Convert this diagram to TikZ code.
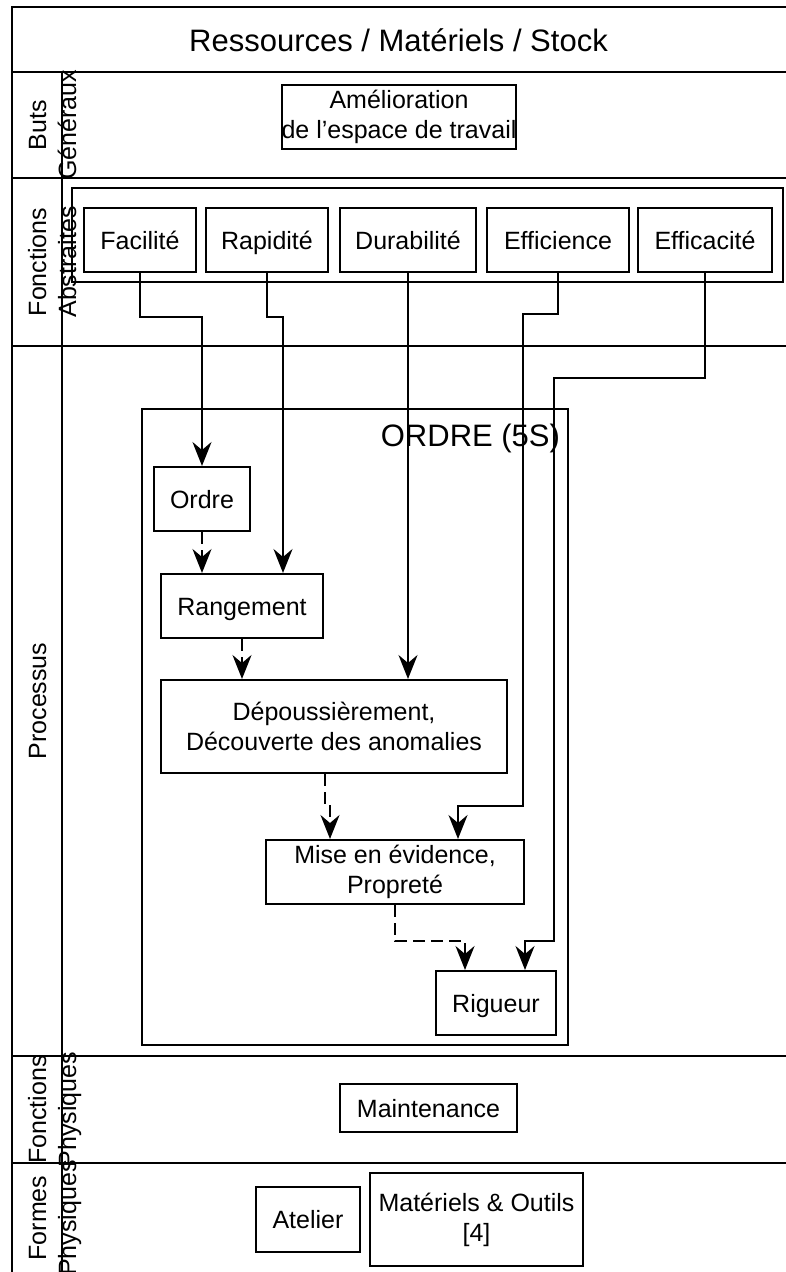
\documentclass[tikz,border=0pt]{standalone}
\usepackage{fontspec}
\setmainfont{Liberation Sans}
\usetikzlibrary{arrows.meta}
\begin{document}
\begin{tikzpicture}[x=1pt,y=-1pt,line width=2pt,
  box/.style={draw,line width=2pt,inner sep=0pt,align=center,font=\fontsize{25}{30}\selectfont},
  one/.style={text height=18pt,text depth=0pt},
  grp/.style={draw,line width=2pt,inner sep=0pt},
  lbl/.style={rotate=90,inner sep=0pt,anchor=base,font=\fontsize{25}{30}\selectfont},
  conn/.style={-{Stealth[length=24pt,width=19pt,inset=8pt]},line width=2pt},
  dconn/.style={conn,dash pattern=on 12pt off 6pt}]
\useasboundingbox (0,0) rectangle (785,1272);
% lanes
\draw (12,7) rectangle (790,1280);
\foreach \yy in {72,178,346,1056,1163} \draw (12,\yy) -- (790,\yy);
\draw (62,72) -- (62,1280);
\node[anchor=base,inner sep=0pt,font=\fontsize{31}{37}\selectfont] (title) at (398.5,51) {Ressources / Matériels / Stock};
\node[lbl] (l1a) at (46,125) {Buts};
\node[lbl] (l1b) at (76,125) {Généraux};
\node[lbl] (l2a) at (46,262) {Fonctions};
\node[lbl] (l2b) at (76,262) {Abstraites};
\node[lbl] (l3a) at (46,701) {Processus};
\node[lbl] (l4a) at (46,1109.5) {Fonctions};
\node[lbl] (l4b) at (76,1109.5) {Physiques};
\node[lbl] (l5a) at (46,1218) {Formes};
\node[lbl] (l5b) at (76,1218) {Physiques};
% groups
\node[grp,minimum width=711,minimum height=94] (absgrp) at (427.5,235) {};
\node[grp,minimum width=426,minimum height=636] (ordgrp) at (355,727) {};
\node[anchor=base east,inner sep=0pt,font=\fontsize{31}{37}\selectfont] (ordlbl) at (561,446) {ORDRE (5S)};
% boxes
\node[box,minimum width=232,minimum height=64] (amel) at (399,117) {Amélioration\\de l'espace de travail};
\node[box,one,minimum width=112,minimum height=64] (fac) at (140,240) {Facilité};
\node[box,one,minimum width=122,minimum height=64] (rap) at (267,240) {Rapidité};
\node[box,one,minimum width=136,minimum height=64] (dur) at (408,240) {Durabilité};
\node[box,one,minimum width=142,minimum height=64] (effi) at (558,240) {Efficience};
\node[box,one,minimum width=134,minimum height=64] (effa) at (705,240) {Efficacité};
\node[box,one,minimum width=96,minimum height=64] (ordre) at (202,499) {Ordre};
\node[box,one,minimum width=162,minimum height=64] (rang) at (242,606) {Rangement};
\node[box,minimum width=346,minimum height=93] (dep) at (334,726.5) {Dépoussièrement,\\Découverte des anomalies};
\node[box,minimum width=258,minimum height=64] (mise) at (395,872) {Mise en évidence,\\Propreté};
\node[box,one,minimum width=120,minimum height=64] (rig) at (496,1003) {Rigueur};
\node[box,one,minimum width=177,minimum height=48] (maint) at (428.5,1108) {Maintenance};
\node[box,one,minimum width=104,minimum height=65] (atel) at (308,1219.5) {Atelier};
\node[box,minimum width=213,minimum height=93] (mat) at (476.5,1219.5) {Matériels \& Outils\\{}[4]};
% connectors
\draw[conn] (fac.south) -- ++(0,44) -| (ordre.north);
\draw[conn] (rap.south) -- ++(0,44) -| ([xshift=41pt]rang.north);
\draw[conn] (dur.south) -- (dur.south |- dep.north);
\draw[conn] (effi.south) -- ++(0,41) -- ++(-35,0) -- ++(0,492) -| ([xshift=63pt]mise.north);
\draw[conn] (effa.south) -- ++(0,105) -- ++(-151,0) -- ++(0,563) -| ([xshift=29pt]rig.north);
\draw[dconn] (ordre.south) -- (ordre.south |- rang.north);
\draw[dconn] (rang.south) -- (rang.south |- dep.north);
\draw[dconn] ([xshift=-9pt]dep.south) -- ++(0,32) -| ([xshift=-65pt]mise.north);
\draw[dconn] (mise.south) -- ++(0,36) -| ([xshift=-31pt]rig.north);
\end{tikzpicture}
\end{document}
